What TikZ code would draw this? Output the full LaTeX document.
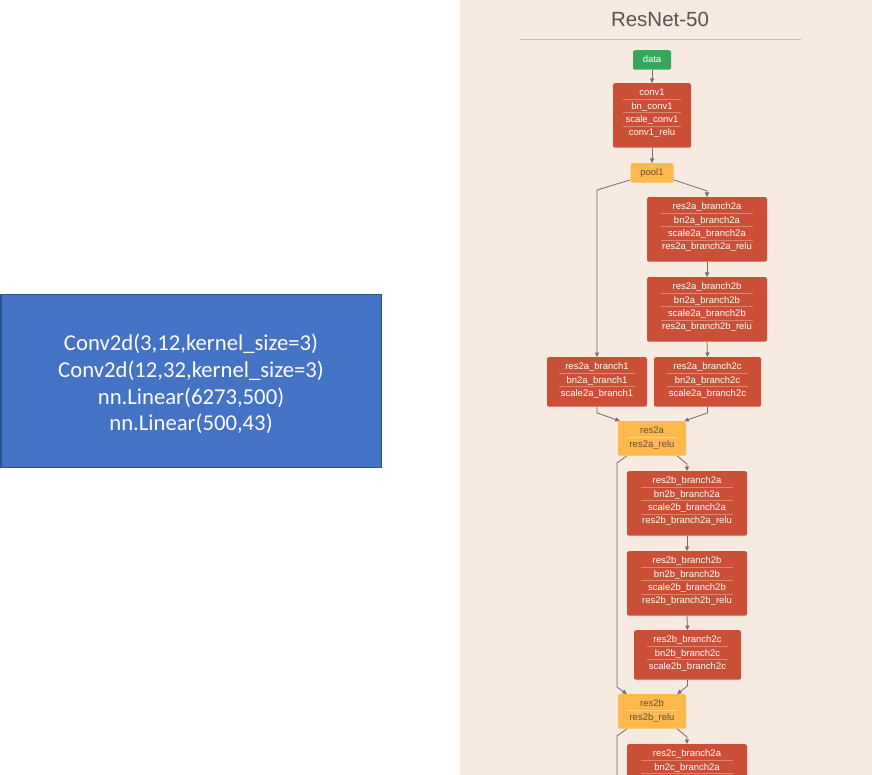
\documentclass[tikz,border=0pt]{standalone}
\usepackage{fontspec}
\setmainfont{Liberation Sans}
\newfontfamily\calibfont{Carlito}
\usetikzlibrary{arrows.meta,calc}
\definecolor{cPanel}{HTML}{F6EAE1}
\definecolor{cRed}{HTML}{CB4F36}
\definecolor{cRedSep}{HTML}{DE8872}
\definecolor{cYel}{HTML}{FDB84E}
\definecolor{cYelSep}{HTML}{FDD38C}
\definecolor{cYelTxt}{HTML}{66502E}
\definecolor{cGrn}{HTML}{37A65B}
\definecolor{cEdge}{HTML}{756D68}
\definecolor{cTitle}{HTML}{5A5350}
\definecolor{cRule}{HTML}{C9BFB8}
\definecolor{cBlue}{HTML}{4472C4}
\definecolor{cBlueEdge}{HTML}{2F528F}
\tikzset{
  basebox/.style={rounded corners=2pt, draw=none, inner sep=0pt},
  redbox/.style={basebox, fill=cRed},
  yelbox/.style={basebox, fill=cYel},
  grnbox/.style={basebox, fill=cGrn},
  basetxt/.style={inner sep=0pt, font=\fontsize{9.5}{10}\selectfont, text height=6.5pt, text depth=2pt},
  redtxt/.style={basetxt, text=white},
  yeltxt/.style={basetxt, text=cYelTxt},
  grntxt/.style={basetxt, text=white},
  redsep/.style={draw=cRedSep, line width=0.6pt},
  yelsep/.style={draw=cYelSep, line width=0.6pt},
  grnsep/.style={draw=white, line width=0.6pt},
  arr/.style={draw=cEdge, line width=0.8pt, -{Triangle[length=4.5pt,width=4pt]}},
  plainedge/.style={draw=cEdge, line width=0.8pt},
  bluebox/.style={fill=cBlue, draw=cBlueEdge, line width=1.5pt, inner sep=0pt},
}
% #1 name, #2 kind, #3 cx, #4 top, #5 width, #6 box rows, #7 visible rows
\newcommand\layer[7]{%
  \pgfmathsetmacro\layH{15*#6+4.5}%
  \pgfmathsetmacro\layIn{0.1*#5+2.5}%
  \node[#2box, minimum width=#5pt, minimum height=\layH pt, anchor=north] (#1) at (#3,#4) {};
  \foreach \rowtxt [count=\k] in {#7} {
    \node[#2txt] (#1-\k) at ($(#1.north)+(0,{10.5+13.33*(\k-1)})$) {\rowtxt};
    \ifnum\k<#6
      \draw[#2sep] ($(#1.north west)+({\layIn},{16.4+13.33*(\k-1)})$) -- ($(#1.north east)+({-\layIn},{16.4+13.33*(\k-1)})$);
    \fi
  }
}
\begin{document}
\begin{tikzpicture}[x=1pt,y=-1pt]
\useasboundingbox (0,0) rectangle (872,775);
\clip (0,0) rectangle (872,775);
\fill[white] (0,0) rectangle (872,775);
% left box
\node[bluebox, minimum width=380.5pt, minimum height=172.5pt, text=white, align=center,
  font=\calibfont\fontsize{22.7}{26.8}\selectfont] (net) at (191,381) {};
\node[text=white, align=center, inner sep=0pt,
  font=\calibfont\fontsize{22.7}{26.8}\selectfont] (nettext) at (191,384)
  {Conv2d(3,12,kernel\_size=3)\\Conv2d(12,32,kernel\_size=3)\\nn.Linear(6273,500)\\nn.Linear(500,43)};
% right panel
\fill[cPanel] (460,0) rectangle (872,775);
\node[font=\fontsize{20.5}{22}\selectfont, text=cTitle, anchor=base, inner sep=0pt] (title) at (660,26.5) {ResNet-50};
\draw[cRule, line width=0.8pt] (520,39) -- (801,39);
% layers
\layer{data}{grn}{652}{50}{38}{1}{data}
\layer{conv1}{red}{652}{83}{78}{4}{conv1,bn\_conv1,scale\_conv1,conv1\_relu}
\layer{pool1}{yel}{652}{163}{43}{1}{pool1}
\layer{r2a2a}{red}{707}{197}{120}{4}{res2a\_branch2a,bn2a\_branch2a,scale2a\_branch2a,res2a\_branch2a\_relu}
\layer{r2a2b}{red}{707}{277}{120}{4}{res2a\_branch2b,bn2a\_branch2b,scale2a\_branch2b,res2a\_branch2b\_relu}
\layer{r2a1}{red}{597}{357}{100}{3}{res2a\_branch1,bn2a\_branch1,scale2a\_branch1}
\layer{r2a2c}{red}{707.5}{357}{107}{3}{res2a\_branch2c,bn2a\_branch2c,scale2a\_branch2c}
\layer{res2a}{yel}{652}{421}{68}{2}{res2a,res2a\_relu}
\layer{r2b2a}{red}{687}{471}{120}{4}{res2b\_branch2a,bn2b\_branch2a,scale2b\_branch2a,res2b\_branch2a\_relu}
\layer{r2b2b}{red}{687}{551}{120}{4}{res2b\_branch2b,bn2b\_branch2b,scale2b\_branch2b,res2b\_branch2b\_relu}
\layer{r2b2c}{red}{687.5}{630}{107}{3}{res2b\_branch2c,bn2b\_branch2c,scale2b\_branch2c}
\layer{res2b}{yel}{652}{694}{68}{2}{res2b,res2b\_relu}
\layer{r2c2a}{red}{687}{744}{120}{4}{res2c\_branch2a,bn2c\_branch2a}
% edges
\draw[arr] (data) -- (conv1);
\draw[arr] (conv1.south) -- (pool1.north);
\draw[arr] ($(pool1.south west)+(0,-3)$) -- (r2a1.north |- 0,190) -- (r2a1.north);
\draw[arr] ($(pool1.south east)+(0,-3)$) -- (r2a2a.north |- 0,191) -- (r2a2a.north);
\draw[arr] (r2a2a) -- (r2a2b);
\draw[arr] (r2a2b.south) -- (r2a2c.north);
\draw[arr] (r2a1.south) -- ($(r2a1.south)+(0,6)$) -- ($(res2a.north west)+(2,0)$);
\draw[arr] (r2a2c.south) -- ($(r2a2c.south)+(0,6)$) -- ($(res2a.north east)+(-2,0)$);
\draw[arr] ($(res2a.south east)+(-9,0)$) -- (r2b2a.north |- 0,464) -- (r2b2a.north);
\draw[arr] ($(res2a.south west)+(9,0)$) -- (617,463) -- (617,687) -- ($(res2b.north west)+(9,0)$);
\draw[arr] (r2b2a) -- (r2b2b);
\draw[arr] (r2b2b.south) -- (r2b2c.north);
\draw[arr] (r2b2c.south) -- ($(r2b2c.south)+(0,6)$) -- ($(res2b.north east)+(-9,0)$);
\draw[arr] ($(res2b.south east)+(-9,0)$) -- (r2c2a.north |- 0,737) -- (r2c2a.north);
\coordinate (skipend) at (617,800);
\draw[plainedge] ($(res2b.south west)+(9,0)$) -- (617,736) -- (skipend);
\end{tikzpicture}
\end{document}
